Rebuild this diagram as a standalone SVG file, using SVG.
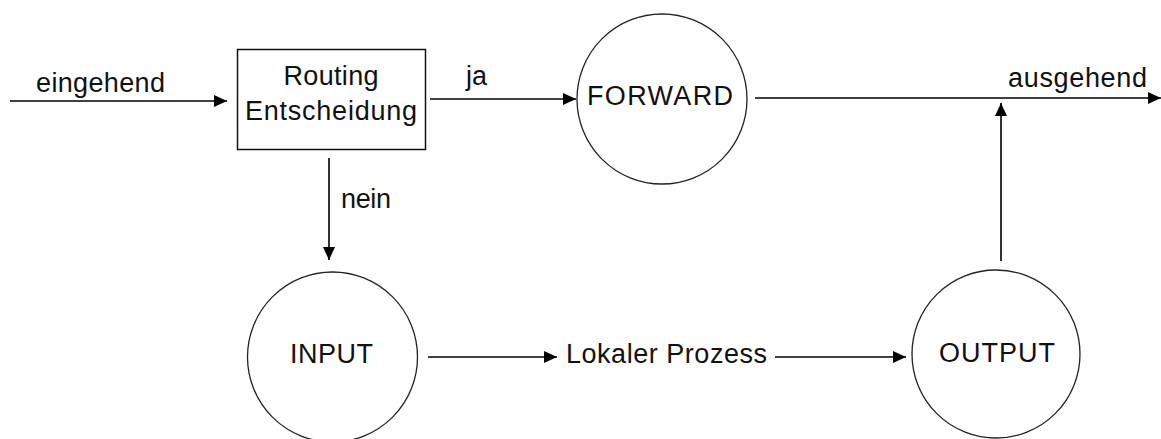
<svg xmlns="http://www.w3.org/2000/svg" width="1161" height="439" viewBox="0 0 1161 439">
<style>
.t{font-family:"Liberation Sans",Arial,sans-serif;font-size:27px;fill:#111}
.c{fill:#fff;stroke:#222;stroke-width:1.3}
.l{stroke:#000;stroke-width:1.6;fill:none;marker-end:url(#ah)}
</style>
<defs>
<marker id="ah" markerUnits="userSpaceOnUse" markerWidth="14" markerHeight="12" refX="13" refY="6" orient="auto">
<path d="M0,0 L13,6 L0,12 Z" fill="#000"/>
</marker>
</defs>
<rect width="1161" height="439" fill="#fff"/>
<g id="connectors">
<line class="l" x1="10" y1="101" x2="227" y2="101"/>
<line class="l" x1="430" y1="99" x2="576" y2="99"/>
<line class="l" x1="755" y1="98" x2="1161" y2="98"/>
<line class="l" x1="329" y1="158" x2="329" y2="260"/>
<line class="l" x1="428" y1="357" x2="557" y2="357"/>
<line class="l" x1="775" y1="357" x2="906" y2="357"/>
<line class="l" x1="1001" y1="261" x2="1001" y2="103"/>
<text class="t" x="36" y="92" textLength="129">eingehend</text>
<text class="t" x="466" y="85">ja</text>
<text class="t" x="1008" y="87" textLength="139">ausgehend</text>
<text class="t" x="341" y="208" textLength="50">nein</text>
<text class="t" x="566" y="363" textLength="201">Lokaler Prozess</text>
</g>
<g id="routing">
<rect x="237.5" y="49.5" width="188" height="100" fill="#fff" stroke="#111" stroke-width="1.5"/>
<text class="t" x="331" y="85" text-anchor="middle" textLength="95">Routing</text>
<text class="t" x="331" y="120" text-anchor="middle" textLength="172">Entscheidung</text>
</g>
<g id="forward">
<circle class="c" cx="662" cy="99" r="85"/>
<text class="t" x="660" y="105" text-anchor="middle" textLength="146">FORWARD</text>
</g>
<g id="input">
<circle class="c" cx="332.5" cy="357" r="85"/>
<text class="t" x="331.5" y="363" text-anchor="middle" textLength="83">INPUT</text>
</g>
<g id="output">
<circle class="c" cx="996" cy="354" r="84"/>
<text class="t" x="997" y="362" text-anchor="middle" textLength="116">OUTPUT</text>
</g>
</svg>
